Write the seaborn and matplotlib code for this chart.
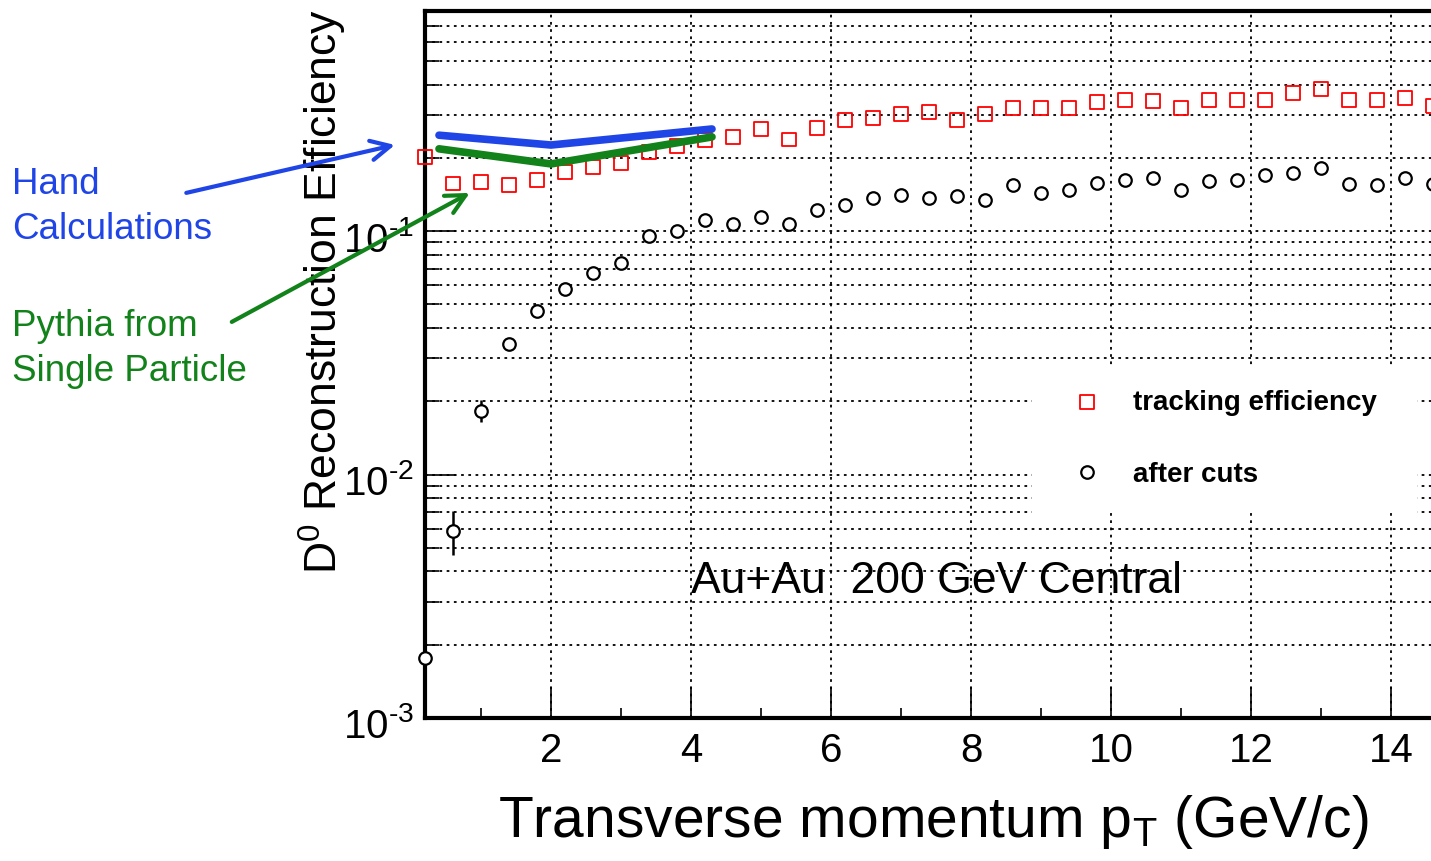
import matplotlib
matplotlib.use("Agg")
import numpy as np
import matplotlib.pyplot as plt
from matplotlib.ticker import MultipleLocator, LogLocator, NullFormatter, FuncFormatter
from matplotlib.transforms import ScaledTranslation
import seaborn as sns

# transverse momentum bin centres (GeV/c)
pt = [0.2, 0.6, 1.0, 1.4, 1.8, 2.2, 2.6, 3.0, 3.4, 3.8, 4.2, 4.6, 5.0,
      5.4, 5.8, 6.2, 6.6, 7.0, 7.4, 7.8, 8.2, 8.6, 9.0, 9.4, 9.8, 10.2,
      10.6, 11.0, 11.4, 11.8, 12.2, 12.6, 13.0, 13.4, 13.8, 14.2, 14.6]

# D0 efficiency from tracking only
track_eff = [0.202, 0.157, 0.159, 0.155, 0.162, 0.175, 0.184, 0.191, 0.211,
             0.224, 0.237, 0.243, 0.263, 0.238, 0.265, 0.287, 0.293, 0.303,
             0.310, 0.286, 0.303, 0.321, 0.321, 0.321, 0.339, 0.347, 0.343,
             0.321, 0.347, 0.345, 0.346, 0.370, 0.384, 0.347, 0.347, 0.354,
             0.328]

# D0 efficiency after topological cuts
after_cuts = [0.00177, 0.00588, 0.0183, 0.0343, 0.0469, 0.0577, 0.0676,
              0.0738, 0.0954, 0.100, 0.111, 0.107, 0.114, 0.107, 0.122,
              0.128, 0.137, 0.141, 0.137, 0.139, 0.134, 0.155, 0.144, 0.148,
              0.158, 0.162, 0.165, 0.148, 0.161, 0.162, 0.170, 0.174, 0.182,
              0.157, 0.155, 0.166, 0.157]
after_err = [0.0, 0.0012, 0.0019, 0.0, 0.0, 0.0, 0.0, 0.0, 0.0, 0.0, 0.0,
             0.0, 0.0, 0.0, 0.0, 0.0, 0.0, 0.0, 0.0, 0.0, 0.0, 0.0, 0.0, 0.0,
             0.0, 0.0, 0.0, 0.0, 0.0, 0.0, 0.0, 0.0, 0.0, 0.0, 0.0, 0.0, 0.0]

# overlaid estimates
hand_pt = [0.4, 2.0, 4.3]
hand_eff = [0.248, 0.226, 0.263]
pythia_pt = [0.4, 2.0, 4.3]
pythia_eff = [0.218, 0.189, 0.244]

# annotation arrows: (tail, head) in data coordinates
hand_arrow = ((-3.21, 0.1437), (-0.23, 0.2262))
pythia_arrow = ((-2.56, 0.0424), (0.84, 0.1437))

BLUE = "#1f45e6"
GREEN = "#12821a"

sns.set_theme(style="ticks")
plt.rcParams["font.family"] = ["Liberation Sans", "DejaVu Sans"]
plt.rcParams["mathtext.fontset"] = "custom"
plt.rcParams["mathtext.rm"] = "Liberation Sans"
plt.rcParams["mathtext.it"] = "Liberation Sans:italic"
plt.rcParams["mathtext.bf"] = "Liberation Sans:bold"
for key in ["text.color", "axes.labelcolor", "xtick.color", "ytick.color",
            "xtick.labelcolor", "ytick.labelcolor"]:
    plt.rcParams[key] = "black"

W, H = 1431, 861
fig = plt.figure(figsize=(W / 100, H / 100), dpi=100)
ax = fig.add_axes([425 / W, 143 / H, 1036 / W, 706.6 / H])

# data
sns.scatterplot(x=pt, y=track_eff, marker="s", s=100, color="red",
                facecolor="none", edgecolor="red", linewidth=1.3,
                ax=ax, zorder=3, clip_on=False, legend=False)
squares = ax.collections[-1]
eb = ax.errorbar(pt, after_cuts, yerr=after_err, fmt="o", ms=9,
                 mfc="white", mec="black", mew=1.6, ecolor="black",
                 elinewidth=1.8, capsize=0, zorder=3, clip_on=False)
sns.lineplot(x=hand_pt, y=hand_eff, color=BLUE, lw=5.5, sort=False,
             ax=ax, zorder=4)
sns.lineplot(x=pythia_pt, y=pythia_eff, color=GREEN, lw=5.5, sort=False,
             ax=ax, zorder=4)

ax.set_yscale("log")
ax.set_xlim(0.2, 15.0)
ax.set_ylim(1e-3, 0.8)

ax.xaxis.set_major_locator(MultipleLocator(2))
ax.xaxis.set_minor_locator(MultipleLocator(1))
ax.yaxis.set_major_locator(LogLocator(base=10))
ax.yaxis.set_minor_locator(LogLocator(base=10, subs=range(2, 10)))
ax.yaxis.set_minor_formatter(NullFormatter())
ax.yaxis.set_major_formatter(
    FuncFormatter(lambda v, p: "$10^{\\text{%d}}$" % round(np.log10(v))))

ax.tick_params(axis="both", which="both", direction="in", color="black",
               bottom=True, left=True, top=False, right=False)
ax.tick_params(axis="x", which="major", length=22, width=1.2,
               labelsize=29, pad=10)
ax.tick_params(axis="x", which="minor", length=7, width=1.2)
ax.tick_params(axis="y", which="major", length=22, width=1.2,
               labelsize=29, pad=8)
ax.tick_params(axis="y", which="minor", length=10, width=1.2)
# ROOT-style: exponent labels sit a little below their tick
shift = ScaledTranslation(0, -5 / 100, fig.dpi_scale_trans)
for t in ax.yaxis.get_major_ticks():
    t.label1.set_transform(t.label1.get_transform() + shift)

for side in ["left", "bottom", "top"]:
    ax.spines[side].set_linewidth(3)
    ax.spines[side].set_color("black")
ax.spines["right"].set_visible(False)

dots = (0, (1.5, 2.5))
ax.grid(axis="y", which="both", ls=dots, color="black", lw=1.3)
ax.grid(axis="x", which="major", ls=dots, color="black", lw=1.3)
ax.set_axisbelow(True)

ax.set_xlabel("Transverse momentum p$_{\\mathrm{T}}$ (GeV/c)", fontsize=41)
ax.xaxis.set_label_coords(0.491, -0.106)
ax.set_ylabel("D$^{0}$ Reconstruction Efficiency", fontsize=32)
ax.yaxis.set_label_coords(-0.073, 0.604)

ax.text(4.0, 3.27e-3, "Au+Au  200 GeV Central", fontsize=32,
        ha="left", va="baseline")

leg = ax.legend(handles=[squares, eb.lines[0]],
                labels=["tracking efficiency", "after cuts"],
                loc="upper left", bbox_to_anchor=(0.5859, 0.4996, 0.3716, 0),
                mode="expand", borderaxespad=0, borderpad=0.89,
                labelspacing=1.67, handlelength=2.2, handletextpad=0.55,
                frameon=True, fancybox=False,
                prop={"weight": "bold", "size": 20})
leg.get_frame().set_facecolor("white")
leg.get_frame().set_edgecolor("none")
leg.get_frame().set_alpha(1)

# hand-drawn style annotations
for (tail, head), col in [(hand_arrow, BLUE), (pythia_arrow, GREEN)]:
    ax.annotate("", xy=head, xytext=tail, annotation_clip=False,
                arrowprops=dict(arrowstyle="->,head_length=0.7,head_width=0.35",
                                color=col, lw=3, mutation_scale=20,
                                shrinkA=0, shrinkB=0))

fig.text(12 / W, 1 - 207 / H, "Hand\nCalculations", color=BLUE,
         fontsize=26.5, ha="left", va="center", linespacing=1.36)
fig.text(12 / W, 1 - 349 / H, "Pythia from\nSingle Particle", color=GREEN,
         fontsize=26.5, ha="left", va="center", linespacing=1.36)

fig.savefig("out.png", dpi=100)
